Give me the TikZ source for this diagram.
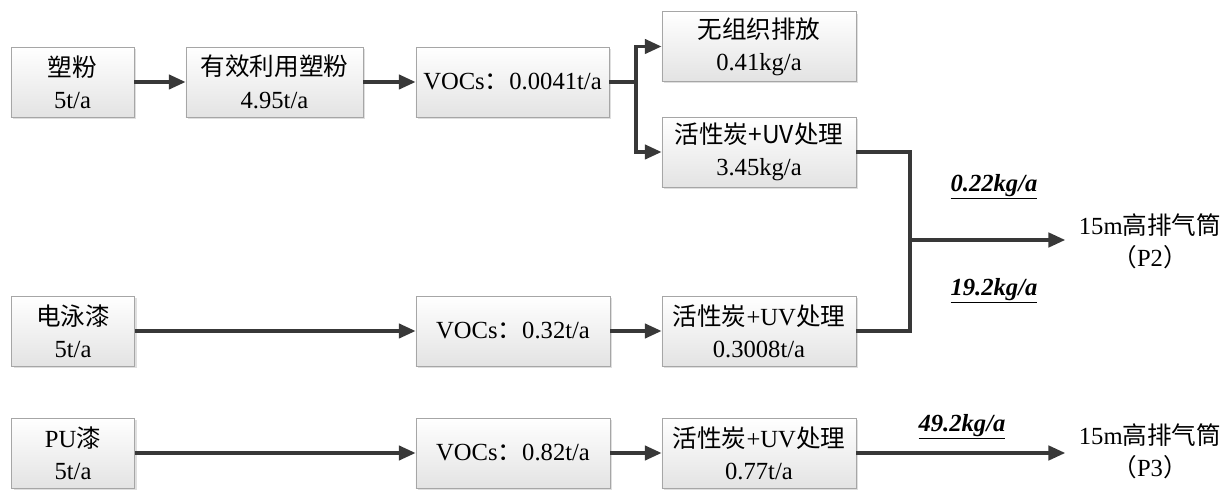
\documentclass[tikz,border=0pt]{standalone}
\usepackage{fontspec}
\setmainfont{Liberation Serif}
\newfontfamily\cjk{Noto Sans CJK SC}
\usepackage{tikz}
\usetikzlibrary{arrows.meta}
\usetikzlibrary{shadows}
\newcommand{\zh}[1]{{\cjk #1}}
\newcommand{\rate}[1]{\textbf{\textit{\underline{#1}}}}

\begin{document}
\begin{tikzpicture}[x=0.025cm, y=-0.025cm, >={Triangle[length=0.42cm, width=0.36cm]},
    line width=2.4pt, font=\fontsize{17.5pt}{23pt}\selectfont,
    main/.style = {draw=gray!70, line width=0.6pt, top color=white, bottom color=gray!22,
        drop shadow={shadow xshift=1.6pt, shadow yshift=-1.6pt, fill=gray!50, opacity=0.5},
        minimum height=1.75cm, align=center, inner sep=2pt},
    flow/.style = {draw=black!78, ->},
    wire/.style = {draw=black!78}]
    \useasboundingbox (0,0) rectangle (1232,491);
    % Nodes

    \node[main, minimum width=3.075cm] (1) at (72.5, 82) {\zh{塑粉}\\5t/a};
    \node[main, minimum width=4.425cm] (2) at (274.5, 82) {\zh{有效利用塑粉}\\4.95t/a};
    \node[main, minimum width=4.825cm] (3) at (512.5, 82) {VOCs\zh{：}0.0041t/a};
    \node[main, minimum width=4.85cm, minimum height=1.73cm] (4) at (759, 46.5) {\zh{无组织排放}\\0.41kg/a};
    \node[main, minimum width=4.85cm] (5) at (759, 152) {\zh{活性炭+UV处理}\\3.45kg/a};
    \node[main, minimum width=3.075cm] (6) at (73, 331) {\zh{电泳漆}\\5t/a};
    \node[main, minimum width=4.85cm] (7) at (513, 331) {VOCs\zh{：}0.32t/a};
    \node[main, minimum width=4.85cm] (8) at (759, 331) {\zh{活性炭}+UV\zh{处理}\\0.3008t/a};
    \node[main, minimum width=3.075cm] (9) at (73, 453) {PU\zh{漆}\\5t/a};
    \node[main, minimum width=4.85cm] (10) at (513, 453) {VOCs\zh{：}0.82t/a};
    \node[main, minimum width=4.85cm] (11) at (759, 453) {\zh{活性炭}+UV\zh{处理}\\0.77t/a};
    \node[align=center, inner sep=0.3cm] (p2) at (1150, 241) {15m\zh{高排气筒}\\\zh{（}P2\zh{）}};
    \node[align=center, inner sep=0.3cm] (p3) at (1150, 451) {15m\zh{高排气筒}\\\zh{（}P3\zh{）}};
    \node (l1) at (994, 187) {\rate{0.22kg/a}};
    \node (l2) at (994, 291) {\rate{19.2kg/a}};
    \node (l3) at (962, 427) {\rate{49.2kg/a}};
    \coordinate (b) at (636, 82);
    \coordinate (m) at (910, 240);

    % Edges
    \draw[flow] (1) -- (2);
    \draw[flow] (2) -- (3);
    \draw[wire] (3) -- (b);
    \draw[flow] (b) |- (4);
    \draw[flow] (b) |- (5);
    \draw[wire] (5) -| (m);
    \draw[wire] (8) -| (m);
    \draw[flow] (m) -- (m -| p2.west);
    \draw[flow] (6) -- (7);
    \draw[flow] (7) -- (8);
    \draw[flow] (9) -- (10);
    \draw[flow] (10) -- (11);
    \draw[flow] (11) -- (11 -| p3.west);

\end{tikzpicture}
\end{document}
